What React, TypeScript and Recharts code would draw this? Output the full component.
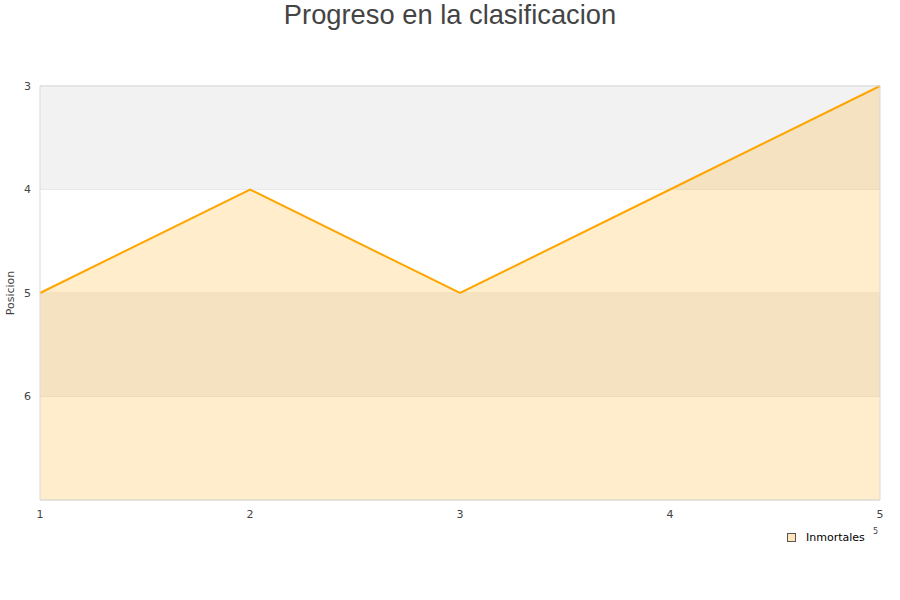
import React from "react";
import {
  ComposedChart,
  Area,
  XAxis,
  YAxis,
  CartesianGrid,
  ReferenceArea,
} from "recharts";

// Jornadas y posición del equipo en cada una
const jornadas = [1, 2, 3, 4, 5];
const posiciones = [5, 4, 5, 4, 3];
const xTicks = [1, 2, 3, 4, 5];
const yTicks = [3, 4, 5, 6];
const serieNombre = "Inmortales";

const LINE_COLOR = "#FFA500";
const BAND_COLOR = "#F2F2F2";
const TICK_STYLE = { fontSize: 11, fill: "#444", fontFamily: "DejaVu Sans" };

const data = jornadas.map((j, i) => ({ jornada: j, posicion: posiciones[i] }));

export default function App(): React.ReactElement {
  return (
    <div style={{ position: "absolute", left: 0, top: 0, width: 900, height: 600, background: "#fff" }}>
      <div
        style={{
          position: "absolute",
          top: -1,
          left: 0,
          width: 900,
          textAlign: "center",
          fontFamily: "Liberation Sans, Arial, sans-serif",
          fontSize: 27.3,
          lineHeight: "32px",
          color: "#444",
        }}
      >
        Progreso en la clasificacion
      </div>
      <ComposedChart
        width={900}
        height={600}
        data={data}
        margin={{ top: 86, right: 20, bottom: 70, left: 0 }}
      >
        {/* bandas alternas del fondo */}
        <ReferenceArea x1={1} x2={5} y1={3} y2={4} fill={BAND_COLOR} fillOpacity={1} strokeOpacity={0} />
        <ReferenceArea x1={1} x2={5} y1={5} y2={6} fill={BAND_COLOR} fillOpacity={1} strokeOpacity={0} />
        <CartesianGrid vertical={false} stroke="#e0e0e0" />
        <XAxis
          dataKey="jornada"
          type="number"
          domain={[1, 5]}
          ticks={xTicks}
          tick={TICK_STYLE}
          tickLine={false}
          axisLine={false}
          tickSize={0}
          tickMargin={10}
          height={30}
        />
        <YAxis
          type="number"
          domain={[3, 7]}
          reversed
          ticks={yTicks}
          tick={TICK_STYLE}
          tickLine={false}
          axisLine={false}
          tickSize={0}
          tickMargin={9}
          width={40}
          label={{
            value: "Posicion",
            angle: -90,
            position: "insideLeft",
            offset: 10,
            style: { fontSize: 11, fill: "#444", fontFamily: "DejaVu Sans", textAnchor: "middle" },
          }}
        />
        <Area
          type="linear"
          dataKey="posicion"
          name={serieNombre}
          baseValue={7}
          stroke={LINE_COLOR}
          strokeWidth={2}
          fill={LINE_COLOR}
          fillOpacity={0.2}
          dot={false}
          activeDot={false}
          isAnimationActive={false}
        />
        {/* borde del área de trazado */}
        <ReferenceArea x1={1} x2={5} y1={3} y2={7} fill="none" stroke="#d9d9d9" strokeWidth={1} />
      </ComposedChart>
      <div
        style={{
          position: "absolute",
          left: 873,
          top: 527,
          fontSize: 8,
          fontFamily: "DejaVu Sans",
          color: "#444",
        }}
      >
        5
      </div>
      <div
        style={{
          position: "absolute",
          left: 787,
          top: 531,
          display: "flex",
          alignItems: "center",
          fontFamily: "DejaVu Sans",
          fontSize: 11,
          color: "#000",
        }}
      >
        <span
          style={{
            display: "inline-block",
            width: 7,
            height: 7,
            background: "#FFE4BC",
            border: "1px solid #555",
            marginRight: 10,
          }}
        />
        {serieNombre}
      </div>
    </div>
  );
}
